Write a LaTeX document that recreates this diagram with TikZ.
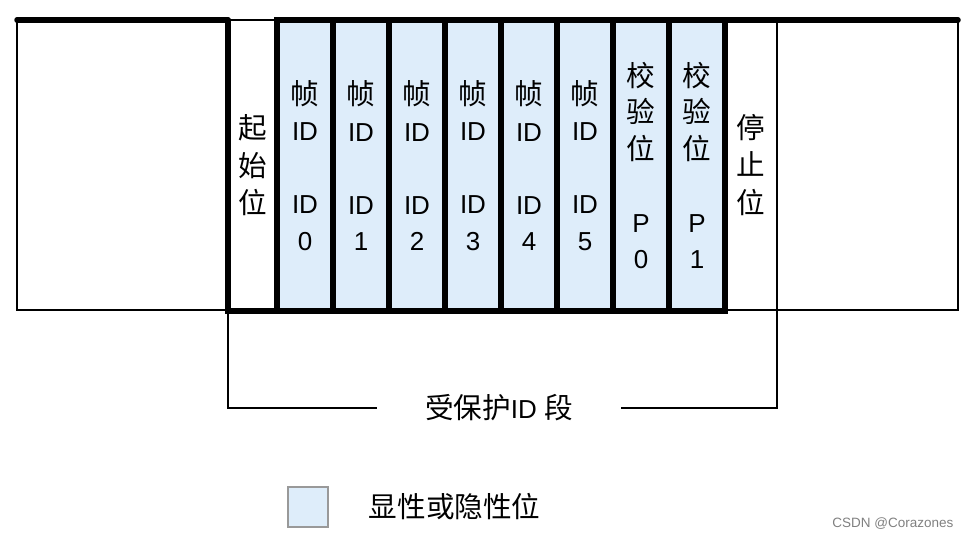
\documentclass[tikz,border=0pt]{standalone}
\usepackage{fontspec}
\setmainfont{Liberation Sans}
\newfontfamily\cjk[Scale=1.1]{Noto Sans CJK SC}
\usepackage{xcolor}
\usepackage{tikz}
\usetikzlibrary{positioning}
\definecolor{bitblue}{RGB}{222,237,250}
\newcommand{\zh}[1]{{\cjk #1}}

\begin{document}
\begin{tikzpicture}[x=1pt,y=-1pt,
 cell/.style={rectangle, draw, line width=5.5pt, fill=bitblue, minimum width=56pt, minimum height=291pt, inner sep=0pt, outer sep=0pt, align=center, font=\fontsize{26}{36.5}\selectfont},
 plainbox/.style={rectangle, draw, line width=1.8pt, minimum height=290pt, inner sep=0pt, outer sep=0pt, align=center, font=\fontsize{26}{37.5}\selectfont},
 thickline/.style={line width=5.5pt, line cap=round},
 thinline/.style={line width=1.8pt}
 ]
 \useasboundingbox (0,0) rectangle (971,539);
 % Frame
 \node[plainbox, minimum width=211pt] (lbox) at (122.5,165) {};
 \node[plainbox, minimum width=181pt] (rbox) at (867.5,165) {};
 \node[plainbox, minimum width=49pt, minimum height=291pt] (start) at (252.5,165.5) {\zh{起}\\\zh{始}\\\zh{位}};
 \node[plainbox, minimum width=52pt] (stop) at (751,165) {\zh{停}\\\zh{止}\\\zh{位}};
 % Bit cells
 \foreach \i in {0,...,5}
  \node[cell] (id\i) at ({305+56*\i},165.5) {\zh{帧}\\ID\\~\\ID\\\i};
 \node[cell] (p0) at (641,165.5) {\zh{校}\\\zh{验}\\\zh{位}\\~\\P\\0};
 \node[cell] (p1) at (697,165.5) {\zh{校}\\\zh{验}\\\zh{位}\\~\\P\\1};
 % Thick edges
 \draw[thickline] (lbox.north west) -- (lbox.north east);
 \draw[thickline] (id0.north west) -- (rbox.north east);
 \draw[thickline] (start.north west) -- (start.south west) -- (p1.south east);
 % Protected field
 \node[inner xsep=48pt, font=\fontsize{26}{30}\selectfont] (prot) at (499,408) {\zh{受保护}ID \zh{段}};
 \draw[thinline] (start.south west) |- (prot.west);
 \draw[thinline] (stop.south east) |- (prot.east);
 % Legend
 \node[rectangle, draw=gray!80, line width=1.2pt, fill=bitblue, minimum size=40pt, inner sep=0pt] (key) at (308,507) {};
 \node[right=40pt of key, inner sep=0pt, font=\fontsize{26}{30}\selectfont] (keytext) {\zh{显性或隐性位}};
 \node[anchor=east, text=gray, font=\fontsize{13.5}{15}\selectfont] (mark) at (957,524) {CSDN @Corazones};
\end{tikzpicture}
\end{document}
